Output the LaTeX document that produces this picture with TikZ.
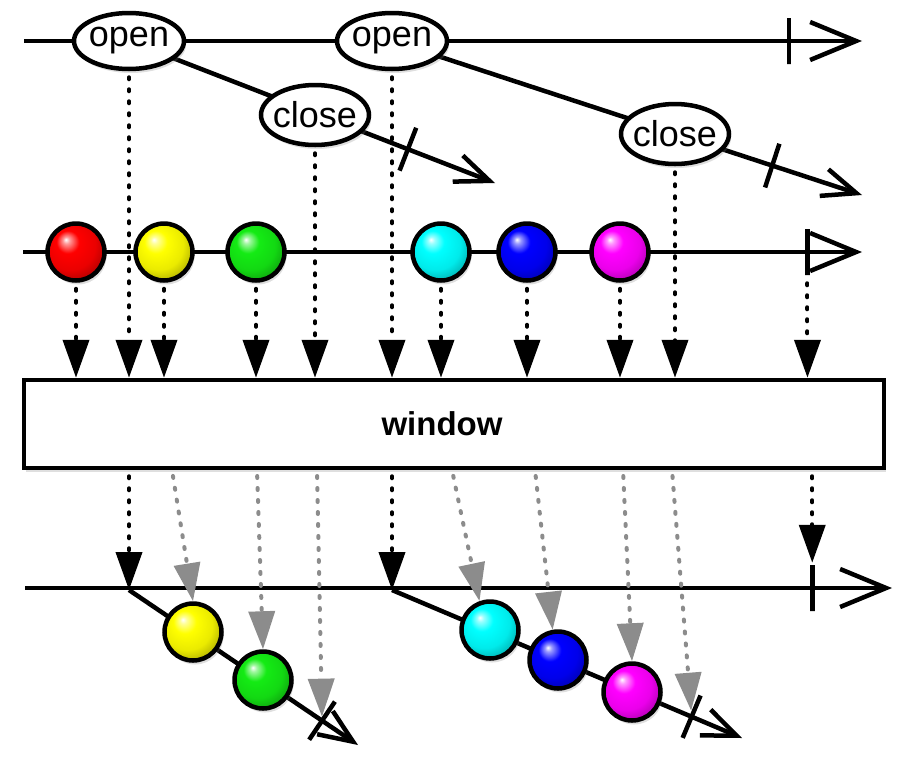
\documentclass[tikz,border=0pt]{standalone}
\usepackage{fontspec}
\setmainfont{Liberation Sans}
\usetikzlibrary{arrows.meta, shapes.geometric, shadows, backgrounds, calc}

\colorlet{marbcol}{red}
\pgfdeclareradialshading[marbcol]{marble}{\pgfqpoint{-9bp}{11bp}}{%
  color(0bp)=(white); color(3bp)=(marbcol!40!white); color(10bp)=(marbcol);
  color(22bp)=(marbcol!92!black); color(30bp)=(marbcol!72!black);
  color(40bp)=(marbcol!55!black); color(50bp)=(marbcol!55!black)}

\tikzset{
  softshadow/.style = {drop shadow={opacity=0.25, shadow xshift=2pt, shadow yshift=-4pt}},
  timeline/.style = {line width=4.5pt, -{Straight Barb[length=46pt,width=38pt]}},
  subline/.style = {line width=4.5pt, -{Straight Barb[length=34pt,width=28pt]}},
  evt/.style = {ellipse, draw, line width=4.5pt, fill=white, inner xsep=-14pt, inner ysep=-2pt,
    minimum width=110pt, font=\fontsize{36}{36}\selectfont, softshadow},
  marble/.style = {circle, draw, line width=4.5pt, minimum size=57pt, inner sep=0pt,
    /utils/exec={\colorlet{marbcol}{#1}}, shade, shading=marble, softshadow},
  winbox/.style = {draw, line width=4.5pt, fill=white, minimum width=860pt,
    minimum height=88pt, softshadow},
  feed/.style = {line width=4pt, line cap=round, dash pattern=on 2pt off 10pt, shorten <=6pt,
    -{Triangle[length=38pt,width=26pt]}},
  gfeed/.style = {feed, draw=black!45},
  tickmark/.style = {draw, line width=4.5pt, minimum height=46pt, minimum width=0pt,
    inner sep=0pt, sloped},
}
\definecolor{mgreen}{RGB}{20,235,20}

\begin{document}
\begin{tikzpicture}[x=1pt, y=-1pt]
  \useasboundingbox (0,0) rectangle (907,772);

  % open / close events
  \node (o1) [evt, minimum height=56pt] at (129,41) {open};
  \node (o2) [evt, minimum height=56pt] at (392,41) {open};
  \node (c1) [evt, minimum width=108pt, minimum height=60pt] at (315,115) {close};
  \node (c2) [evt, minimum width=108pt, minimum height=60pt] at (675,134) {close};

  % source marbles
  \node (m1) [marble=red]     at (76,252)  {};
  \node (m2) [marble=yellow]  at (164,252) {};
  \node (m3) [marble=mgreen]  at (256,252) {};
  \node (m4) [marble=cyan]    at (441,252) {};
  \node (m5) [marble=blue]    at (527,252) {};
  \node (m6) [marble=magenta] at (620,252) {};

  \node (win) [winbox, label={[xshift=-12pt, font=\bfseries\fontsize{33}{33}\selectfont]center:window}]
    at (454,424) {};

  % windows
  \coordinate (s1) at (129,590);
  \coordinate (f1) at (358,745);
  \coordinate (s2) at (392,590);
  \coordinate (f2) at (742,738);
  \node (w1) [marble=yellow]  at (193,632) {};
  \node (w2) [marble=mgreen]  at (263,680) {};
  \node (w3) [marble=cyan]    at (490,630) {};
  \node (w4) [marble=blue]    at (558,660) {};
  \node (w5) [marble=magenta] at (632,692) {};

  \coordinate (a0) at (24,41);
  \coordinate (a1) at (862,41);
  \coordinate (e1) at (495,183);
  \coordinate (e2) at (862,195);
  \coordinate (b0) at (23,252);
  \coordinate (b1) at (862,252);
  \coordinate (d0) at (25,588);
  \coordinate (d1) at (892,588);

  \begin{scope}[on background layer]
    \draw [timeline] (a0) -- (a1);
    \draw [subline] (o1.center) -- (e1);
    \draw [subline] (o2.center) -- (e2);
    \draw [timeline] (b0) -- (b1);
    \draw [timeline] (d0) -- (d1);
    \draw [subline] (s1) -- (f1);
    \draw [subline] (s2) -- (f2);
  \end{scope}

  % completion ticks
  \path (a0) -- (a1) node (t1) [tickmark, pos=0.913] {};
  \path (o1.center) -- (e1) node (t2) [tickmark, pos=0.762] {};
  \path (o2.center) -- (e2) node (t3) [tickmark, pos=0.809] {};
  \path (b0) -- (b1) node (t4) [tickmark, pos=0.935] {};
  \path (d0) -- (d1) node (t5) [tickmark, pos=0.908] {};
  \path (s1) -- (f1) node (t6) [tickmark, pos=0.843] {};
  \path (s2) -- (f2) node (t7) [tickmark, pos=0.856] {};

  % into the operator
  \foreach \n in {m1, m2, m3, m4, m5, m6, o1, o2, c1, c2}
    \draw [feed] (\n) -- (\n |- win.north);
  \draw [feed] (t4.south) -- (t4 |- win.north);

  % out of the operator
  \draw [feed] (o1 |- win.south) -- (s1);
  \draw [feed] (o2 |- win.south) -- (s2);
  \draw [feed] (t5 |- win.south) -- (t5.north);

  \coordinate (g1) at (172,470);
  \coordinate (g2) at (257,470);
  \coordinate (g3) at (317,470);
  \coordinate (g4) at (452,470);
  \coordinate (g5) at (535,470);
  \coordinate (g6) at (623,470);
  \coordinate (g7) at (672,470);
  \draw [gfeed] (g1) -- (w1.north);
  \draw [gfeed] (g2) -- (w2.north);
  \draw [gfeed, shorten >=4pt] (g3) -- (t6.center);
  \draw [gfeed] (g4) -- (w3.110);
  \draw [gfeed] (g5) -- (w4.100);
  \draw [gfeed] (g6) -- (w5.north);
  \draw [gfeed, shorten >=6pt] (g7) -- (t7.center);
\end{tikzpicture}
\end{document}
